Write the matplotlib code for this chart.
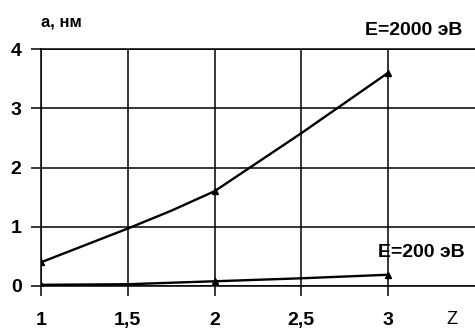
import matplotlib
matplotlib.use("Agg")
import matplotlib.pyplot as plt

# data
z = [1, 1.5, 1.75, 2, 2.5, 3]
a_2000 = [0.4, 0.97, 1.27, 1.6, 2.58, 3.6]
z_200 = [1, 1.5, 2, 2.5, 3]
a_200 = [0.02, 0.03, 0.08, 0.13, 0.19]
xticks = [1, 1.5, 2, 2.5, 3]
xticklabels = ["1", "1,5", "2", "2,5", "3"]
yticks = [0, 1, 2, 3, 4]

plt.rcParams['font.family'] = ['Liberation Sans', 'DejaVu Sans']

fig = plt.figure(figsize=(4.75, 3.31), dpi=100)
ax = fig.add_axes([41 / 475, 45 / 331, 1 - 41 / 475, 237 / 331])

ax.plot(z, a_2000, color="black", lw=1.7, marker="^", ms=4.5, markevery=[0, 3, 5])
ax.plot(z_200, a_200, color="black", lw=1.7, marker="^", ms=4.5, markevery=[0, 2, 4])

ax.set_xlim(1, 3.5)
ax.set_ylim(0, 4)
ax.set_xticks(xticks)
ax.set_xticklabels(xticklabels)
ax.set_yticks(yticks)
ax.grid(True, color="black", lw=1.1)
ax.set_axisbelow(True)
ax.spines["right"].set_visible(False)
for s in ["left", "bottom", "top"]:
    ax.spines[s].set_linewidth(1.1)
ax.tick_params(axis="both", length=7, width=1.1, direction="out", labelsize=14)
ax.tick_params(axis="x", pad=12)
ax.tick_params(axis="y", pad=7)
for lab in ax.get_xticklabels() + ax.get_yticklabels():
    lab.set_fontweight("bold")

ax.text(1.0, 4.46, "a, нм", fontsize=12, fontweight="bold", ha="left", va="center", clip_on=False)
ax.text(3.145, 4.32, "E=2000 эВ", fontsize=14, fontweight="bold", ha="center", va="center", clip_on=False)
ax.text(3.19, 0.57, "E=200 эВ", fontsize=14, fontweight="bold", ha="center", va="center")
ax.text(3.37, -0.57, "Z", fontsize=13, ha="center", va="center", clip_on=False)

fig.savefig("out.png", dpi=100)
